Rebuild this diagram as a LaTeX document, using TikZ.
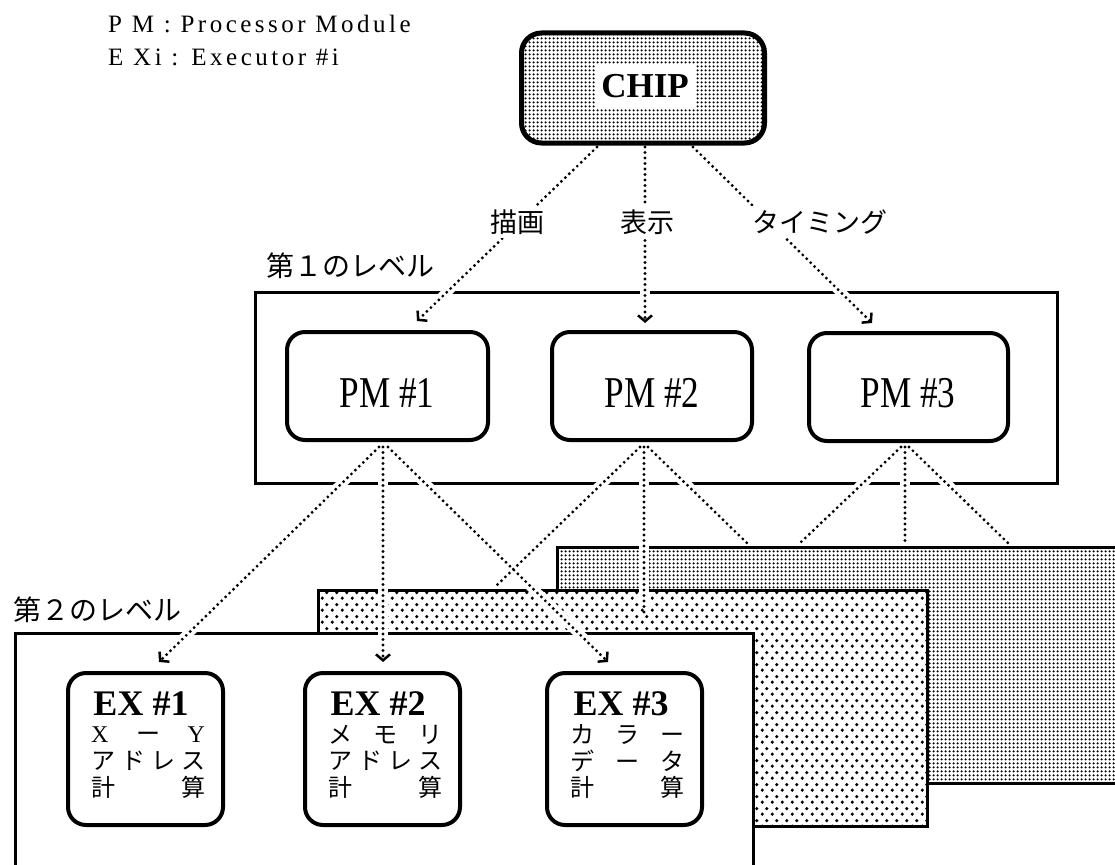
\documentclass[tikz,border=0pt]{standalone}
\usepackage{fontspec}
\setmainfont{Liberation Serif}
\newfontfamily\jp{Noto Sans CJK JP}
\newfontfamily\legfont[LetterSpace=14]{Liberation Serif}
\newfontfamily\pmfont[FakeStretch=0.8]{Liberation Serif}
\usetikzlibrary{arrows.meta,patterns}
\pgfdeclarepatternformonly{densedots}{\pgfqpoint{0pt}{0pt}}{\pgfqpoint{4pt}{4pt}}{\pgfqpoint{4pt}{4pt}}{\pgfpathcircle{\pgfqpoint{2pt}{2pt}}{1.45pt}\pgfusepath{fill}}
\pgfdeclarepatternformonly{sparsedots}{\pgfqpoint{0pt}{0pt}}{\pgfqpoint{10pt}{12pt}}{\pgfqpoint{10pt}{12pt}}{\pgfpathcircle{\pgfqpoint{2.5pt}{3pt}}{1.9pt}\pgfusepath{fill}\pgfpathcircle{\pgfqpoint{7.5pt}{9pt}}{1.9pt}\pgfusepath{fill}}
\newcommand\jrowthree[3]{\makebox[114pt][l]{#1\hfill #2\hfill #3}}
\newcommand\jrowfour[4]{\makebox[114pt][l]{#1\hfill #2\hfill #3\hfill #4}}
\begin{document}
\begin{tikzpicture}[x=1pt,y=-1pt,
  panel/.style={line width=3pt},
  rbox/.style={draw, line width=4pt, rounded corners=18pt, fill=white},
  conn/.style={line width=3.2pt, dash pattern=on 0pt off 5.5pt, line cap=round},
  arr/.style={conn, -{Straight Barb[length=6pt,width=14pt,line width=2.5pt]}},
  halo/.style={draw=white, line width=10pt, shorten <=7pt, shorten >=9pt},
  jlabel/.style={font=\jp\fontsize{27}{30}\selectfont, fill=white, inner sep=4pt},
  lvl/.style={font=\jp\fontsize{28}{30}\selectfont, inner sep=0pt},
  leg/.style={anchor=base west, font=\legfont\fontsize{25}{28}\selectfont, inner sep=0pt},
  pmtext/.style={font=\pmfont\fontsize{44}{48}\selectfont, inner sep=0pt},
  extitle/.style={font=\bfseries\fontsize{36}{40}\selectfont, inner sep=0pt},
  exrow/.style={font=\jp\fontsize{24}{24}\selectfont, inner sep=0pt},
]
\clip (0,0) rectangle (1115,864);
\fill[white] (0,0) rectangle (1115,864);

% stacked second-level panels (back to front)
\fill[white] (557,547) rectangle (1135,783);
\draw[panel, pattern=densedots] (557,547) rectangle (1135,783);
\fill[white] (318,590) rectangle (927,826);
\draw[panel, pattern=sparsedots] (318,590) rectangle (927,826);
\fill[white] (15,633) rectangle (753,880);
\draw[panel] (15,880) -- (15,633) -- (753,633) -- (753,880);

% first level frame
\draw[panel] (255,292) rectangle (1057,483);

% legend
\node[leg] (leg1) at (108,33) {P M : Processor Module};
\node[leg] (leg2) at (108,66) {E Xi : Executor \#i};

% CHIP
\node[draw, line width=5pt, rounded corners=20pt, pattern=densedots,
      minimum width=243, minimum height=110] (chip) at (643,88) {};
\node[fill=white, minimum width=100, minimum height=44, inner sep=0pt,
      font=\bfseries\fontsize{35}{40}\selectfont] (chiptext) at (645,86) {CHIP};

% processor modules
\node[rbox, minimum width=201, minimum height=108] (pm1) at (387.5,386) {};
\node[rbox, minimum width=200, minimum height=108] (pm2) at (652,386) {};
\node[rbox, minimum width=199, minimum height=108] (pm3) at (908.5,387) {};
\node[pmtext] (pm1t) at (387,393) {PM \#1};
\node[pmtext] (pm2t) at (652,393) {PM \#2};
\node[pmtext] (pm3t) at (908,393) {PM \#3};

% executors
\node[rbox, minimum width=155, minimum height=152] (ex1) at (145.5,749) {};
\node[rbox, minimum width=155, minimum height=152] (ex2) at (382.5,749) {};
\node[rbox, minimum width=155, minimum height=152] (ex3) at (624.5,749) {};
\node[extitle] (ex1t) at (141,704) {EX \#1};
\node[extitle] (ex2t) at (378,704) {EX \#2};
\node[extitle] (ex3t) at (621,704) {EX \#3};
\node[exrow] (ex1a) at (148,735) {\jrowthree{\textrm{X}}{ー}{\textrm{Y}}};
\node[exrow] (ex1b) at (148,761) {\jrowfour{ア}{ド}{レ}{ス}};
\node[exrow] (ex1c) at (148,787) {\jrowthree{計}{}{算}};
\node[exrow] (ex2a) at (385,735) {\jrowthree{メ}{モ}{リ}};
\node[exrow] (ex2b) at (385,761) {\jrowfour{ア}{ド}{レ}{ス}};
\node[exrow] (ex2c) at (385,787) {\jrowthree{計}{}{算}};
\node[exrow] (ex3a) at (627,735) {\jrowthree{カ}{ラ}{ー}};
\node[exrow] (ex3b) at (627,761) {\jrowthree{デ}{ー}{タ}};
\node[exrow] (ex3c) at (627,787) {\jrowthree{計}{}{算}};

% connector end points
\coordinate (cl) at (597,147);
\coordinate (cm) at (645,147);
\coordinate (cr) at (693,147);
\coordinate (pm1in) at (417,321);
\coordinate (pm2in) at (645,323);
\coordinate (pm3in) at (872,323);
\coordinate (p1l) at (379,447);
\coordinate (p1m) at (383,447);
\coordinate (p1r) at (388,447);
\coordinate (ex1in) at (159,662);
\coordinate (ex2in) at (383,662);
\coordinate (ex3in) at (608,662);
\coordinate (p2l) at (640,447);
\coordinate (p2m) at (644,447);
\coordinate (p2r) at (648,447);
\coordinate (p2le) at (497,585);
\coordinate (p2me) at (644,615);
\coordinate (p2re) at (747,543);
\coordinate (p3l) at (901,447);
\coordinate (p3m) at (905,447);
\coordinate (p3r) at (909,447);
\coordinate (p3le) at (800,543);
\coordinate (p3me) at (905,545);
\coordinate (p3re) at (1008,543);

% white gaps where the dotted lines cross frames and screens
\foreach \a/\b in {cl/pm1in, cm/pm2in, cr/pm3in, p1l/ex1in, p1m/ex2in, p1r/ex3in,
                   p2l/p2le, p2m/p2me, p2r/p2re, p3l/p3le, p3m/p3me, p3r/p3re}
  \draw[halo] (\a) -- (\b);

% dotted connectors
\draw[arr] (cl) -- (pm1in);
\draw[arr] (cm) -- (pm2in);
\draw[arr] (cr) -- (pm3in);
\draw[arr] (p1l) -- (ex1in);
\draw[arr] (p1m) -- (ex2in);
\draw[arr] (p1r) -- (ex3in);
\draw[conn] (p2l) -- (p2le);
\draw[conn] (p2m) -- (p2me);
\draw[conn] (p2r) -- (p2re);
\draw[conn] (p3l) -- (p3le);
\draw[conn] (p3m) -- (p3me);
\draw[conn] (p3r) -- (p3re);

% labels
\node[jlabel] (lbl1) at (517,222) {描画};
\node[jlabel] (lbl2) at (647,222) {表示};
\node[jlabel] (lbl3) at (820,222) {タイミング};
\node[lvl] (lev1) at (350,266) {第１のレベル};
\node[lvl] (lev2) at (97,610) {第２のレベル};
\end{tikzpicture}
\end{document}
